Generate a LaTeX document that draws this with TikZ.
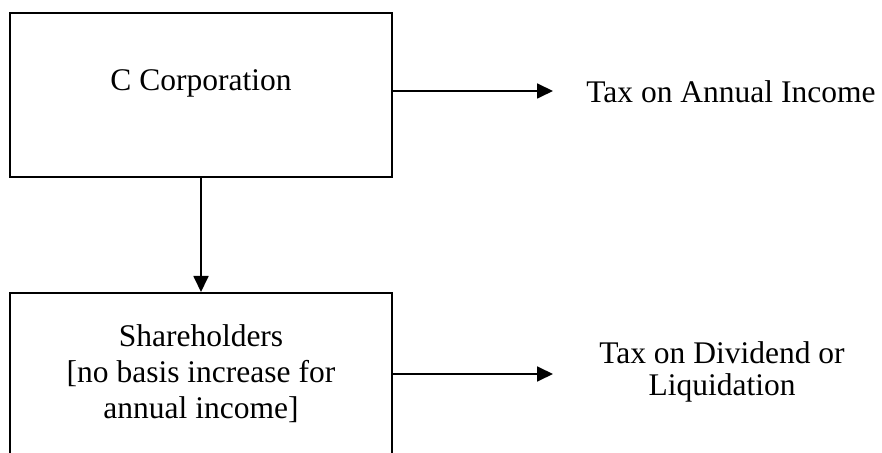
\documentclass[tikz,border=0pt]{standalone}
\usepackage{fontspec}
\setmainfont{Liberation Serif}
\usetikzlibrary{arrows.meta,positioning,calc}
\tikzset{
	taxbox/.style={rectangle, draw=black, line width=0.9pt, minimum width=191pt, inner sep=0pt},
	taxtext/.style={font=\fontsize{15.75}{18}\selectfont, align=center, inner sep=0pt},
	taxarr/.style={-{Triangle[length=8pt,width=7.5pt]}, line width=0.9pt}
}
\begin{document}
\begin{tikzpicture}[x=0.5pt,y=-0.5pt]
	\useasboundingbox (0,0) rectangle (882,453);
	\clip (0,0) rectangle (882,453);
	% boxes
	\node[taxbox, minimum height=82pt] (corp) at (201,95) {};
	\node[taxbox, minimum height=100pt, anchor=north] (share) at (201,292) {};
	\node[taxtext, anchor=base] (corptxt) at (201,91) {C Corporation};
	\node[taxtext, anchor=north] (sharetxt) at (201,324) {Shareholders\\{[}no basis increase for\\annual income]};
	% taxes
	\node[taxtext, anchor=base west] (tax1) at (586,103) {Tax on Annual Income};
	\node[taxtext, anchor=north, font=\fontsize{15.75}{16}\selectfont] (tax2) at (722,341.5) {Tax on Dividend or\\Liquidation};
	\coordinate (end1) at (553,91);
	\coordinate (end2) at (553,374);
	\draw[taxarr] (corp.east |- end1) -- (end1);
	\draw[taxarr] (share.east |- end2) -- (end2);
	\draw[taxarr] (corp) -- (share);
\end{tikzpicture}
\end{document}
